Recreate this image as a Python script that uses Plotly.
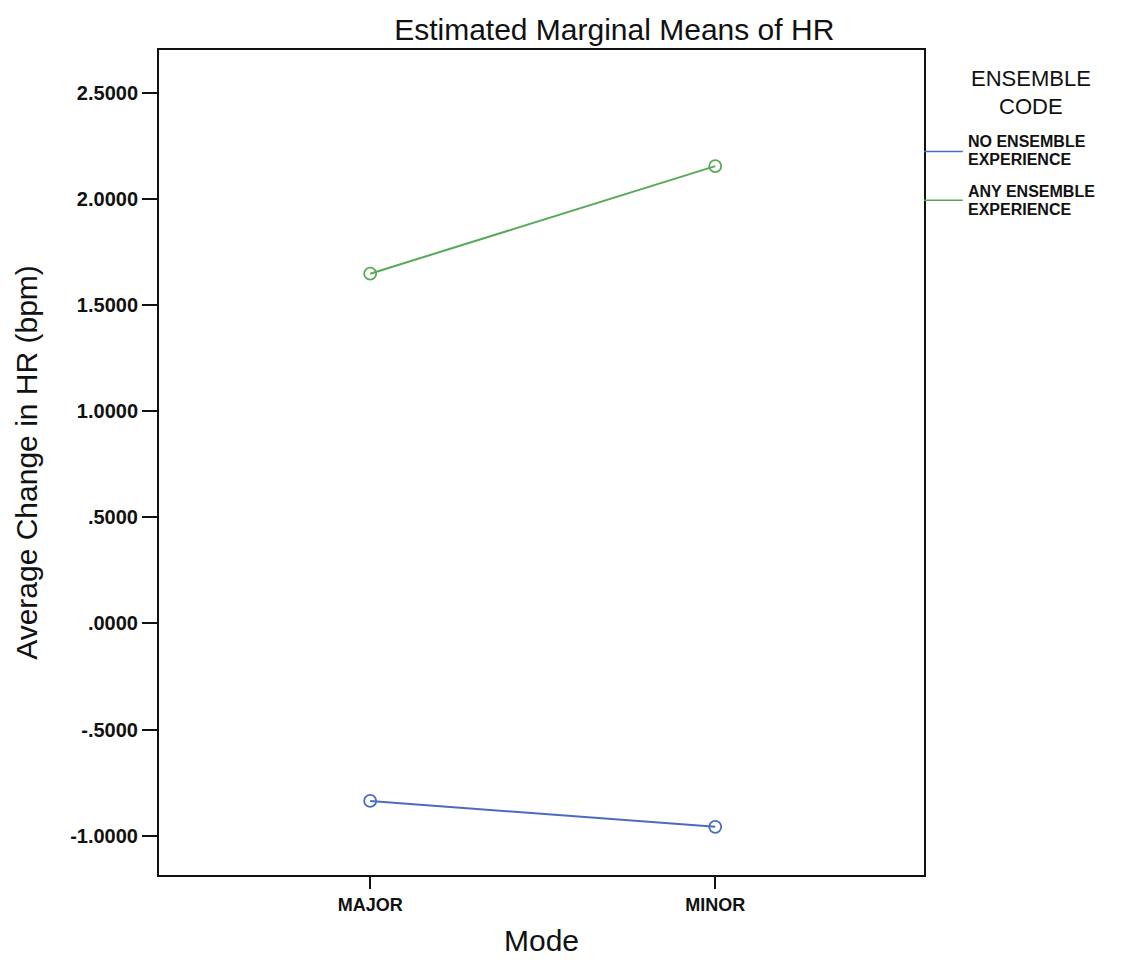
import plotly.graph_objects as go

modes = ["MAJOR", "MINOR"]
mode_pos = [0, 1]
no_ensemble = [-0.836, -0.958]
any_ensemble = [1.648, 2.155]
series_lines = [["NO ENSEMBLE", "EXPERIENCE"], ["ANY ENSEMBLE", "EXPERIENCE"]]
legend_title_lines = ["ENSEMBLE", "CODE"]
y_tickvals = [2.5, 2.0, 1.5, 1.0, 0.5, 0.0, -0.5, -1.0]
y_ticktext = ["2.5000", "2.0000", "1.5000", "1.0000", ".5000", ".0000", "-.5000", "-1.0000"]

blue = "#4a6cc0"
green = "#56aa56"

fig = go.Figure()
for vals, col in [(no_ensemble, blue), (any_ensemble, green)]:
    fig.add_trace(go.Scatter(
        x=mode_pos, y=vals, mode="lines+markers",
        line=dict(color=col, width=2),
        marker=dict(symbol="circle-open", size=12, color=col, line=dict(width=1.8, color=col)),
        showlegend=False,
    ))

sans = "Liberation Sans, Arial"
fig.update_layout(
    width=1131, height=958,
    margin=dict(l=151, r=215, t=42, b=91),
    paper_bgcolor="white", plot_bgcolor="white",
    title=dict(text="Estimated Marginal Means of HR", x=0.536, xanchor="center",
               y=0.989, yanchor="top",
               font=dict(family=sans, size=30, color="#111")),
    xaxis=dict(range=[-0.612, 1.605], tickvals=mode_pos, ticktext=["<b>%s</b>" % m for m in modes],
               ticks="outside", ticklen=12, tickwidth=1.5, tickcolor="#111",
               showline=True, linecolor="#111", linewidth=2, mirror=True,
               showgrid=False, zeroline=False,
               tickfont=dict(family=sans, size=18, color="#111"),
               title=dict(text="Mode", font=dict(family=sans, size=30, color="#111"),
                          standoff=16)),
    yaxis=dict(range=[-1.185, 2.702], tickvals=y_tickvals,
               ticktext=["<b>%s</b>" % t for t in y_ticktext],
               ticks="outside", ticklen=15, tickwidth=1.5, tickcolor="#111",
               showline=True, linecolor="#111", linewidth=2, mirror=True,
               showgrid=False, zeroline=False,
               tickfont=dict(family=sans, size=20, color="#111"),
               title=dict(text="Average Change in HR (bpm)",
                          font=dict(family=sans, size=30, color="#111"),
                          standoff=24)),
)

# legend (custom, SPSS style)
for txt, ly in zip(legend_title_lines, [0.965, 0.932]):
    fig.add_annotation(xref="paper", yref="paper", x=1.1395, y=ly, xanchor="center", yanchor="middle",
                       text=txt, showarrow=False, font=dict(family=sans, size=22, color="#111"))

line_y = [0.877, 0.818]
text_y = [[0.889, 0.867], [0.828, 0.807]]
for lines, col, ly, tys in zip(series_lines, [blue, green], line_y, text_y):
    fig.add_shape(type="line", xref="paper", yref="paper", x0=1.0, x1=1.0508, y0=ly, y1=ly,
                  line=dict(color=col, width=1.5))
    for txt, ty in zip(lines, tys):
        fig.add_annotation(xref="paper", yref="paper", x=1.0548, y=ty, xanchor="left", yanchor="middle",
                           text="<b>%s</b>" % txt, showarrow=False,
                           font=dict(family=sans, size=16, color="#111"))

fig.write_html("out.html")
